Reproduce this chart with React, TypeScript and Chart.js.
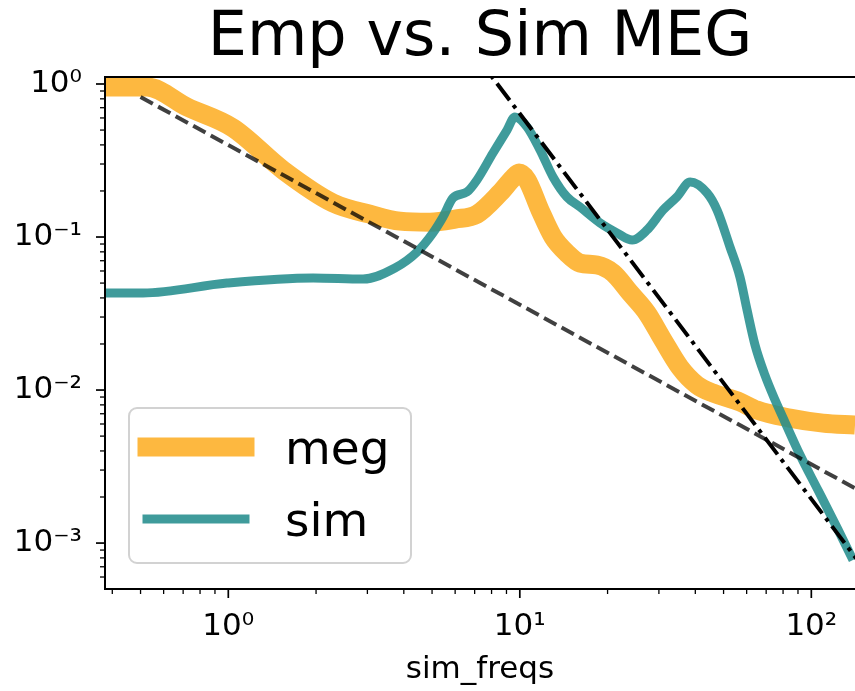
import React, { useEffect, useRef } from 'react';
import { Chart, registerables } from 'chart.js';

Chart.register(...registerables);

// ---- data ----
const megFreqs = [0.378, 0.526, 0.722, 1.038, 1.54, 2.286, 3.06, 3.88, 4.92, 6.0, 7.13, 8.55, 9.48, 9.94, 10.59, 11.73, 13.0, 14.5, 16.1, 18.4, 20.9, 23.9, 27.3, 31.0, 35.4, 40.5, 46.0, 56.9, 65.0, 84.4, 109.6, 141.2];
const megPower = [0.956, 0.956, 0.707, 0.516, 0.274, 0.167, 0.141, 0.127, 0.125, 0.131, 0.141, 0.194, 0.243, 0.262, 0.236, 0.15, 0.1, 0.0786, 0.0676, 0.0656, 0.0582, 0.0431, 0.0319, 0.0212, 0.0141, 0.0108, 0.00955, 0.00835, 0.0074, 0.00656, 0.00608, 0.0059];

const simFreqs = [0.378, 0.51, 0.99, 1.954, 2.9, 3.73, 4.44, 5.03, 5.45, 5.9, 6.59, 7.13, 8.09, 9.04, 9.62, 10.59, 11.73, 13.0, 14.5, 16.1, 18.8, 21.6, 24.3, 27.3, 31.0, 34.6, 38.4, 43.9, 47.5, 52.6, 56.9, 60.2, 64.1, 69.3, 75.1, 81.2, 91.5, 105.4, 123.6, 139];
const simPower = [0.0431, 0.0431, 0.05, 0.054, 0.0531, 0.0627, 0.0798, 0.106, 0.135, 0.18, 0.197, 0.236, 0.354, 0.5, 0.609, 0.524, 0.371, 0.247, 0.183, 0.157, 0.124, 0.106, 0.0955, 0.111, 0.15, 0.183, 0.229, 0.194, 0.15, 0.0861, 0.0548, 0.0333, 0.0197, 0.01253, 0.0086, 0.00618, 0.00376, 0.00222, 0.00122, 0.000774];

const fitFreqs = [0.5, 145];
const fitPower = [0.822, 0.00222];

const kneeFreqs = [7, 145];
const kneePower = [1.569, 0.000761];

const xTickExponents = [0, 1, 2];
const yTickExponents = [0, -1, -2, -3];

const X_MIN = 0.3776;
const X_MAX = 141.2;
const Y_MIN = 5.01e-4;
const Y_MAX = 1.111;

const FONT = 'DejaVu Sans';
const MEG_COLOR = '#FDB840';
const SIM_COLOR = 'rgba(35,140,140,0.87)';

const SUP: Record<string, string> = {
  '0': '⁰', '1': '¹', '2': '²', '3': '³', '4': '⁴', '5': '⁵', '6': '⁶', '7': '⁷', '8': '⁸', '9': '⁹', '-': '⁻',
};
const powLabel = (e: number) => '10' + String(e).split('').map((c) => SUP[c]).join('');

const makeCallback = (exps: number[]) => (value: any) => {
  const v = Number(value);
  const l = Math.log10(v);
  const r = Math.round(l);
  if (Math.abs(l - r) < 1e-6 && exps.includes(r)) return powLabel(r);
  return '';
};

const toPts = (xs: number[], ys: number[]) => xs.map((x, i) => ({ x, y: ys[i] }));

const decorPlugin = {
  id: 'decor',
  afterDraw(chart: any) {
    const { ctx, chartArea: ca, scales } = chart;
    ctx.save();

    // legend
    const x0 = ca.left + 24;
    const w = 282;
    const h = 155;
    const y0 = ca.bottom - 26 - h;
    ctx.beginPath();
    if ((ctx as any).roundRect) (ctx as any).roundRect(x0, y0, w, h, 8);
    else ctx.rect(x0, y0, w, h);
    ctx.fillStyle = 'rgba(255,255,255,0.8)';
    ctx.fill();
    ctx.lineWidth = 2;
    ctx.strokeStyle = '#d2d2d2';
    ctx.stroke();
    const entries = chart.data.datasets.filter((d: any) => d.label === 'meg' || d.label === 'sim');
    entries.forEach((ds: any, i: number) => {
      const yl = y0 + 39 + i * 72;
      ctx.beginPath();
      ctx.lineCap = 'square';
      ctx.lineWidth = ds.borderWidth;
      ctx.strokeStyle = ds.borderColor;
      ctx.moveTo(x0 + 18, yl);
      ctx.lineTo(x0 + 116, yl);
      ctx.stroke();
      ctx.fillStyle = '#000';
      ctx.font = `47px "${FONT}"`;
      ctx.textAlign = 'left';
      ctx.textBaseline = 'alphabetic';
      ctx.fillText(ds.label, x0 + 156, yl + 17);
    });

    // ticks
    ctx.lineCap = 'butt';
    ctx.strokeStyle = '#000';
    const drawLogTicks = (scale: any, horizontal: boolean) => {
      const lo = Math.floor(Math.log10(scale.min));
      const hi = Math.ceil(Math.log10(scale.max));
      for (let e = lo; e <= hi; e++) {
        for (let m = 1; m <= 9; m++) {
          const v = m * Math.pow(10, e);
          if (v < scale.min * 0.9999 || v > scale.max * 1.0001) continue;
          const p = scale.getPixelForValue(v);
          const major = m === 1;
          const len = major ? 9 : 5;
          ctx.lineWidth = major ? 1.7 : 1.3;
          ctx.beginPath();
          if (horizontal) {
            ctx.moveTo(p, ca.bottom);
            ctx.lineTo(p, ca.bottom + len);
          } else {
            ctx.moveTo(ca.left, p);
            ctx.lineTo(ca.left - len, p);
          }
          ctx.stroke();
        }
      }
    };
    drawLogTicks(scales.x, true);
    drawLogTicks(scales.y, false);

    // spines
    ctx.lineWidth = 2;
    ctx.strokeStyle = '#000';
    ctx.beginPath();
    ctx.moveTo(ca.right + 2, ca.top);
    ctx.lineTo(ca.left, ca.top);
    ctx.lineTo(ca.left, ca.bottom);
    ctx.lineTo(ca.right + 2, ca.bottom);
    ctx.stroke();
    ctx.restore();
  },
};

export default function App() {
  const ref = useRef<HTMLCanvasElement | null>(null);

  useEffect(() => {
    document.body.style.margin = '0';
    const canvas = ref.current;
    if (!canvas) return;
    const chart = new Chart(canvas, {
      type: 'line',
      data: {
        datasets: [
          {
            label: 'meg',
            data: toPts(megFreqs, megPower),
            borderColor: MEG_COLOR,
            borderWidth: 19,
            pointRadius: 0,
            cubicInterpolationMode: 'monotone',
            borderJoinStyle: 'round',
            clip: 0,
            order: 4,
          } as any,
          {
            label: 'sim',
            data: toPts(simFreqs, simPower),
            borderColor: SIM_COLOR,
            borderWidth: 9,
            pointRadius: 0,
            cubicInterpolationMode: 'monotone',
            borderJoinStyle: 'round',
            clip: 0,
            order: 3,
          } as any,
          {
            label: 'fit',
            data: toPts(fitFreqs, fitPower),
            borderColor: 'rgba(0,0,0,0.75)',
            borderWidth: 4,
            borderDash: [14, 6],
            pointRadius: 0,
            clip: 0,
            order: 2,
          } as any,
          {
            label: 'knee',
            data: toPts(kneeFreqs, kneePower),
            borderColor: '#000',
            borderWidth: 4,
            borderDash: [21, 6, 4, 6],
            pointRadius: 0,
            clip: 0,
            order: 1,
          } as any,
        ],
      },
      options: {
        responsive: false,
        animation: false,
        devicePixelRatio: 1,
        layout: { padding: 0 },
        plugins: {
          legend: { display: false },
          tooltip: { enabled: false },
          title: {
            display: true,
            text: 'Emp vs. Sim MEG',
            fullSize: false,
            color: '#000',
            font: { family: FONT, size: 62, weight: 'normal', lineHeight: 1 },
            padding: { top: 8, bottom: 7 },
          },
        },
        scales: {
          x: {
            type: 'logarithmic',
            min: X_MIN,
            max: X_MAX,
            grid: { display: false, drawTicks: false },
            border: { display: false },
            ticks: {
              autoSkip: false,
              maxRotation: 0,
              minRotation: 0,
              padding: 19,
              color: '#000',
              font: { family: FONT, size: 31 },
              callback: makeCallback(xTickExponents),
            },
            title: {
              display: true,
              text: 'sim_freqs',
              color: '#000',
              font: { family: FONT, size: 31 },
              padding: { top: 0, bottom: 2 },
            },
            afterFit: (s: any) => {
              s.height = 102;
              s.paddingLeft = 0;
              s.paddingRight = 0;
            },
          },
          y: {
            type: 'logarithmic',
            min: Y_MIN,
            max: Y_MAX,
            grid: { display: false, drawTicks: false },
            border: { display: false },
            ticks: {
              autoSkip: false,
              padding: 23,
              color: '#000',
              font: { family: FONT, size: 31 },
              callback: makeCallback(yTickExponents),
            },
            afterFit: (s: any) => {
              s.width = 105;
              s.paddingTop = 0;
              s.paddingBottom = 0;
            },
          },
        },
      } as any,
      plugins: [decorPlugin],
    });
    return () => chart.destroy();
  }, []);

  return (
    <div style={{ position: 'absolute', left: 0, top: 0, width: 855, height: 691, background: '#fff' }}>
      <canvas ref={ref} width={855} height={691} style={{ display: 'block' }} />
    </div>
  );
}
